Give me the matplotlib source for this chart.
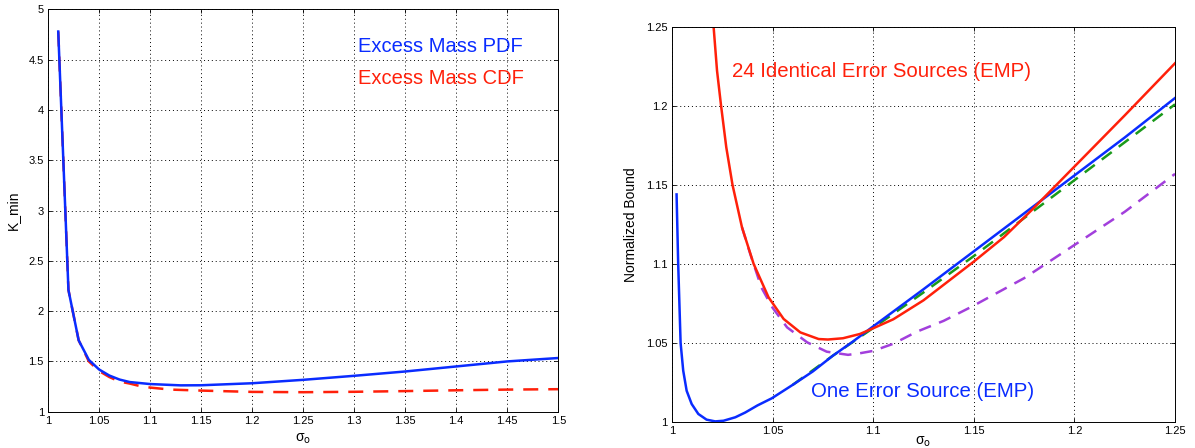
import matplotlib
matplotlib.use("Agg")
import matplotlib.pyplot as plt

plt.rcParams["font.family"] = ["Liberation Sans", "DejaVu Sans"]
plt.rcParams["mathtext.fontset"] = "dejavusans"

# left panel: K_min vs sigma_o
pdf_x = [1.01, 1.02, 1.03, 1.04, 1.05, 1.06, 1.07, 1.08, 1.09, 1.10, 1.13, 1.15,
         1.20, 1.25, 1.30, 1.35, 1.40, 1.45, 1.50]
pdf_y = [4.78, 2.21, 1.71, 1.515, 1.42, 1.36, 1.32, 1.295, 1.285, 1.275, 1.262, 1.263,
         1.283, 1.317, 1.357, 1.40, 1.45, 1.50, 1.534]
cdf_x = [1.01, 1.02, 1.03, 1.04, 1.05, 1.06, 1.07, 1.08, 1.09, 1.10, 1.12, 1.15,
         1.20, 1.25, 1.30, 1.35, 1.40, 1.45, 1.50]
cdf_y = [4.78, 2.21, 1.71, 1.50, 1.405, 1.345, 1.30, 1.28, 1.255, 1.24, 1.22, 1.21,
         1.197, 1.194, 1.198, 1.205, 1.213, 1.22, 1.224]

# right panel: normalized bound vs sigma_o
one_x = [1.0023, 1.0031, 1.0043, 1.0056, 1.0073, 1.0098, 1.0131, 1.0172, 1.0215,
         1.0256, 1.0315, 1.0364, 1.0425, 1.0496, 1.06, 1.07, 1.08, 1.09, 1.10,
         1.125, 1.15, 1.175, 1.20, 1.225, 1.25]
one_y = [1.144, 1.10, 1.05, 1.0325, 1.0198, 1.0114, 1.0051, 1.0015, 1.0004,
         1.0008, 1.003, 1.006, 1.0105, 1.015, 1.0235, 1.032, 1.042, 1.051, 1.0605,
         1.084, 1.108, 1.132, 1.156, 1.18, 1.205]
many_x = [1.0207, 1.0224, 1.0244, 1.027, 1.0301, 1.0348, 1.0406, 1.048, 1.0555,
          1.0638, 1.0729, 1.0775, 1.085, 1.0934, 1.10, 1.11, 1.125, 1.15, 1.165,
          1.1787, 1.20, 1.225, 1.25]
many_y = [1.25, 1.2223, 1.2002, 1.1738, 1.15, 1.1232, 1.10, 1.0789, 1.0652,
          1.0567, 1.0525, 1.0522, 1.053, 1.0557, 1.0593, 1.065, 1.077, 1.1015, 1.117,
          1.134, 1.1616, 1.194, 1.227]
purple_x = [1.0348, 1.039, 1.0445, 1.0499, 1.0572, 1.0672, 1.0769, 1.0875, 1.0934,
            1.10, 1.11, 1.1216, 1.135, 1.149, 1.175, 1.20, 1.225, 1.25]
purple_y = [1.1232, 1.106, 1.085, 1.0725, 1.0599, 1.0504, 1.0445, 1.0425, 1.0435,
            1.045, 1.0495, 1.0571, 1.064, 1.073, 1.091, 1.112, 1.133, 1.157]
green_x = [1.06, 1.08, 1.10, 1.125, 1.15, 1.175, 1.20, 1.225, 1.25]
green_y = [1.0235, 1.042, 1.0595, 1.082, 1.105, 1.129, 1.153, 1.177, 1.201]

left_xticks = [1, 1.05, 1.1, 1.15, 1.2, 1.25, 1.3, 1.35, 1.4, 1.45, 1.5]
left_yticks = [1, 1.5, 2, 2.5, 3, 3.5, 4, 4.5, 5]
right_ticks = [1, 1.05, 1.1, 1.15, 1.2, 1.25]

BLUE = "#0a2cff"
RED = "#ff200a"
GREEN = "#1a9a1a"
PURPLE = "#a23fdc"


def style_axes(ax, xticks, yticks):
    ax.set_xticks(xticks)
    ax.set_yticks(yticks)
    ax.set_xticklabels(["%g" % t for t in xticks])
    ax.set_yticklabels(["%g" % t for t in yticks])
    ax.tick_params(direction="in", length=3, width=0.6, labelsize=8, pad=3,
                   top=True, right=True)
    ax.grid(True, linestyle=(0, (1, 3)), color="black", linewidth=0.7)
    for s in ax.spines.values():
        s.set_linewidth(0.7)


fig = plt.figure(figsize=(11.95, 4.48), dpi=100)

ax1 = fig.add_axes([0.0402, 0.081, 0.427, 0.898])
ax1.plot(cdf_x, cdf_y, color=RED, lw=1.8, dashes=(6, 4))
ax1.plot(pdf_x, pdf_y, color=BLUE, lw=1.8)
ax1.set_xlim(1, 1.5)
ax1.set_ylim(1, 5)
style_axes(ax1, left_xticks, left_yticks)
ax1.set_xlabel("σ$_\\mathrm{o}$", fontsize=10, labelpad=4)
ax1.set_ylabel("K_min", fontsize=10, labelpad=6)
ax1.text(1.304, 4.63, "Excess Mass PDF", color=BLUE, fontsize=14.5, va="center")
ax1.text(1.304, 4.31, "Excess Mass CDF", color=RED, fontsize=14.5, va="center")

ax2 = fig.add_axes([0.5623, 0.058, 0.421, 0.882])
ax2.plot(green_x, green_y, color=GREEN, lw=1.8, dashes=(5, 3.5))
ax2.plot(one_x, one_y, color=BLUE, lw=1.8)
ax2.plot(purple_x, purple_y, color=PURPLE, lw=1.8, dashes=(5, 3.5))
ax2.plot(many_x, many_y, color=RED, lw=1.8)
ax2.set_xlim(1, 1.25)
ax2.set_ylim(1, 1.25)
style_axes(ax2, right_ticks, right_ticks)
ax2.set_xlabel("σ$_\\mathrm{o}$", fontsize=10, labelpad=-1)
ax2.set_ylabel("Normalized Bound", fontsize=10, labelpad=6)
ax2.text(1.030, 1.222, "24 Identical Error Sources (EMP)", color=RED, fontsize=14.7,
         va="center")
ax2.text(1.069, 1.0196, "One Error Source (EMP)", color=BLUE, fontsize=14.7,
         va="center")

fig.savefig("out.png", dpi=100)
